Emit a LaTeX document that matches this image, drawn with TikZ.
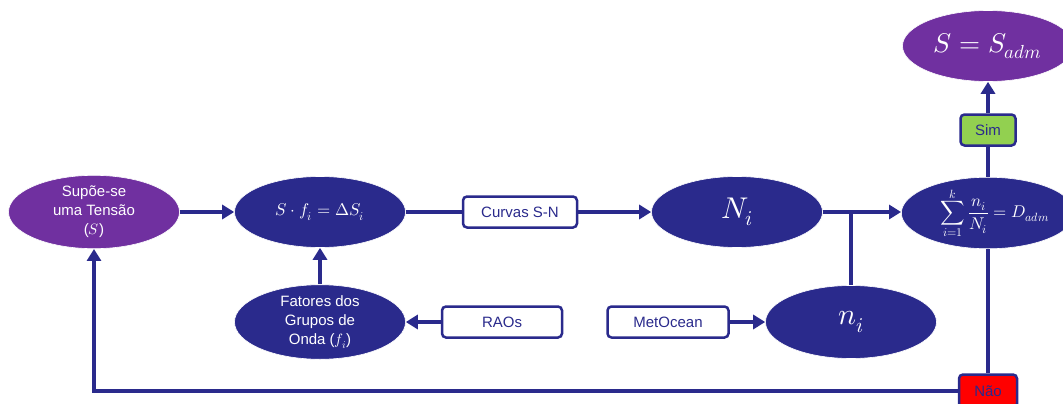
\documentclass[tikz,border=0pt]{standalone}
\usepackage{amsmath}
\usepackage{fontspec}
\usepackage{unicode-math}
\setmainfont{Liberation Sans}
\setmathfont{Latin Modern Math}
\usetikzlibrary{shapes.geometric,arrows.meta}
\definecolor{navy}{RGB}{42,42,140}
\definecolor{purp}{RGB}{112,48,160}
\definecolor{grn}{RGB}{146,208,80}
\tikzset{
  ell/.style={ellipse,draw=white,line width=0.6pt,fill=navy,text=white,minimum width=171pt,minimum height=71pt,inner sep=0pt,align=center,font=\fontsize{15}{19}\selectfont},
  pell/.style={ell,fill=purp},
  bx/.style={rectangle,rounded corners=4pt,draw=navy,line width=2.5pt,fill=white,text=navy,minimum width=114pt,minimum height=31pt,inner sep=0pt,font=\fontsize{15}{18}\selectfont},
  ln/.style={draw=navy,line width=3.6pt},
  arr/.style={ln,-{Triangle[length=12pt,width=14pt]}},
}
\begin{document}
\begin{tikzpicture}[x=1pt,y=-1pt]
\useasboundingbox (0,0) rectangle (1063,404);
\node[pell] (sup) at (94,212) {Supõe-se\\uma Tensão\\($S$)};
\node[ell] (sf) at (320,212) {\fontsize{17}{20}\selectfont$S\cdot f_i=\Delta S_i$};
\node[bx] (cur) at (520,212) {Curvas S-N};
\node[ell] (Ni) at (737,212) {\fontsize{30}{34}\selectfont$N_i$};
\node[ell,inner sep=0pt] (sum) at (988,213) {\fontsize{17}{19}\selectfont\hspace*{14pt}$\displaystyle\sum_{i=1}^{k}\frac{n_i}{N_i}=D_{adm}$};
\node[pell] (sadm) at (988,46) {\fontsize{27}{30}\selectfont$S=S_{adm}$};
\node[bx,fill=grn,minimum width=55pt] (sim) at (988,130) {Sim};
\node[ell] (fat) at (320,322) {Fatores dos\\Grupos de\\Onda ($f_i$)};
\node[bx,minimum width=120pt] (rao) at (502,322) {RAOs};
\node[bx,minimum width=121pt] (met) at (668,322) {MetOcean};
\node[ell,minimum height=73pt] (ni) at (851,322) {\fontsize{30}{34}\selectfont$n_i$};
\node[bx,fill=red,minimum width=58pt,minimum height=33pt] (nao) at (988,391) {Não};
\coordinate (jn) at (ni.north |- Ni.east);
\draw[arr] (sup.east) -- (sf.west);
\draw[ln] (sf.east) -- (cur.west);
\draw[arr] (cur.east) -- (Ni.west);
\draw[arr] (Ni.east) -- (Ni.east -| sum.west);
\draw[ln] (ni.north) -- (jn);
\draw[ln] (sum.north) -- (sim.south);
\draw[arr] (sim.north) -- (sadm.south);
\draw[ln] (sum.south) -- (nao.north);
\draw[arr] (nao.west) -| (sup.south);
\draw[arr] (fat.north) -- (sf.south);
\draw[arr] (rao.west) -- (fat.east);
\draw[arr] (met.east) -- (ni.west);
\end{tikzpicture}
\end{document}
